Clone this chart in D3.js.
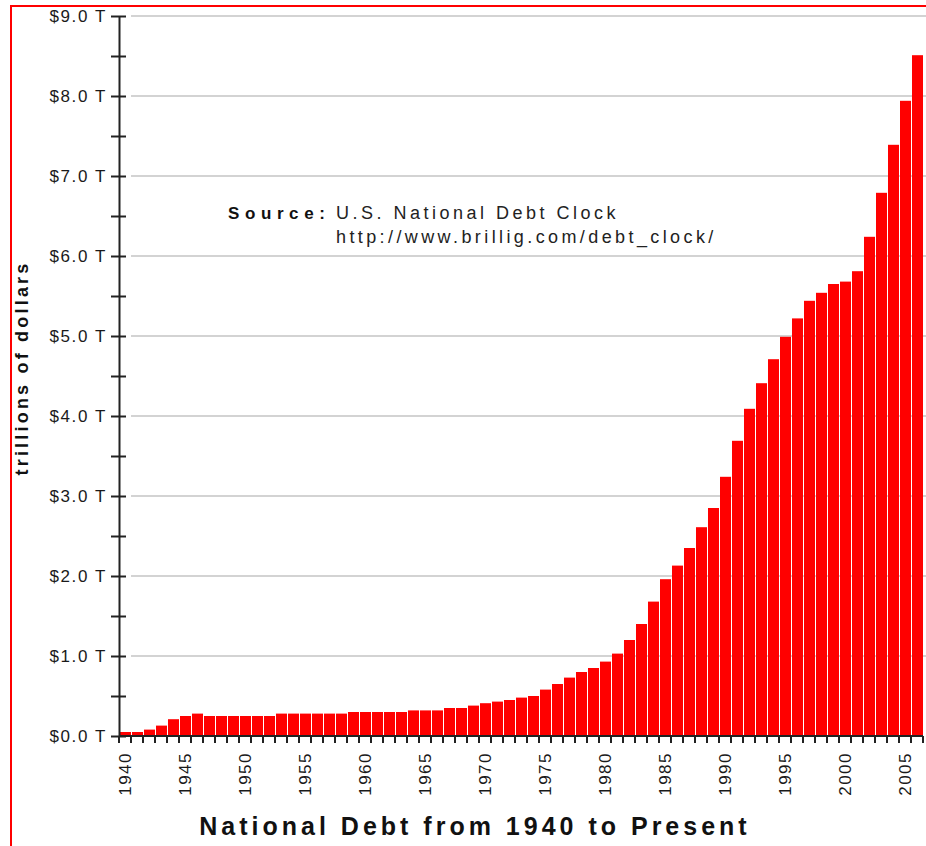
<!DOCTYPE html>
<html>
<head>
<meta charset="utf-8">
<script src="https://cdn.jsdelivr.net/npm/d3@7"></script>
<style>
  body { margin: 0; background: #fff; }
  svg { display: block; font-family: "Liberation Sans", Arial, sans-serif; }
</style>
</head>
<body>
<div id="chart"></div>
<script>
// years 1940..2006, debt in trillions of dollars
const years = d3.range(1940, 2007);
const debt = [
  0.05, 0.05, 0.08, 0.13, 0.21, 0.25, 0.28, 0.25, 0.25, 0.25,
  0.25, 0.25, 0.25, 0.28, 0.28, 0.28, 0.28, 0.28, 0.28, 0.30,
  0.30, 0.30, 0.30, 0.30, 0.32, 0.32, 0.32, 0.35, 0.35, 0.38,
  0.41, 0.43, 0.45, 0.48, 0.50, 0.58, 0.65, 0.73, 0.80, 0.85,
  0.93, 1.03, 1.20, 1.40, 1.68, 1.96, 2.13, 2.35, 2.61, 2.85,
  3.24, 3.69, 4.09, 4.41, 4.71, 4.99, 5.22, 5.44, 5.54, 5.65,
  5.68, 5.81, 6.24, 6.79, 7.39, 7.94, 8.51
];
const labelYears = d3.range(1940, 2006, 5);
const yTicks = d3.range(0, 9.5, 0.5);

const data = years.map((yr, i) => ({ year: yr, value: debt[i] }));

const svgWidth = 926, svgHeight = 846;
const svg = d3.select("#chart").append("svg")
    .attr("width", svgWidth)
    .attr("height", svgHeight);

const x = d3.scaleBand()
    .domain(years)
    .range([119, 923])
    .padding(0);

const y = d3.scaleLinear()
    .domain([0, 9])
    .range([736, 16]);

// red frame
svg.append("rect")
    .attr("x", 11).attr("y", 6)
    .attr("width", 1000).attr("height", 1000)
    .attr("fill", "none")
    .attr("stroke", "#ff0000")
    .attr("stroke-width", 2);

// grid
svg.append("g")
    .selectAll("line")
    .data(d3.range(1, 10))
    .enter().append("line")
    .attr("x1", 131).attr("x2", svgWidth)
    .attr("y1", d => y(d)).attr("y2", d => y(d))
    .attr("stroke", "#c4c4c4")
    .attr("stroke-width", 1.5);

// bars
svg.append("g")
    .selectAll("rect")
    .data(data)
    .enter().append("rect")
    .attr("x", d => x(d.year) + 1)
    .attr("width", x.bandwidth() - 1)
    .attr("y", d => y(d.value))
    .attr("height", d => y(0) - y(d.value))
    .attr("fill", "#ff0000");

// y axis
const yAxis = d3.axisLeft(y)
    .tickValues(yTicks)
    .tickSize(8)
    .tickSizeOuter(0)
    .tickPadding(4)
    .tickFormat(d => Number.isInteger(d) ? "$" + d.toFixed(1) + " T" : "");

const gy = svg.append("g")
    .attr("transform", "translate(119,0)")
    .call(yAxis);
gy.select(".domain").attr("stroke", "#222").attr("stroke-width", 2);
gy.selectAll(".tick line")
    .attr("x1", 7).attr("x2", -8)
    .attr("stroke", "#222").attr("stroke-width", 2);
gy.selectAll(".tick text")
    .attr("font-size", 17)
    .attr("letter-spacing", 1.6)
    .attr("fill", "#1a1a1a")
    .attr("font-family", "Liberation Sans, Arial, sans-serif");

// x axis
const gx = svg.append("g");
gx.append("line")
    .attr("x1", x.range()[0]).attr("x2", x.range()[1])
    .attr("y1", y(0)).attr("y2", y(0))
    .attr("stroke", "#222").attr("stroke-width", 2);
gx.selectAll("line.tick")
    .data(years.map(d => x(d)).concat([x.range()[1]]))
    .enter().append("line")
    .attr("class", "tick")
    .attr("x1", d => d).attr("x2", d => d)
    .attr("y1", y(0)).attr("y2", y(0) + 7)
    .attr("stroke", "#222").attr("stroke-width", 2);
gx.selectAll("text")
    .data(labelYears)
    .enter().append("text")
    .attr("transform", d => `translate(${x(d) + x.bandwidth() / 2 + 6},752) rotate(-90)`)
    .attr("text-anchor", "end")
    .attr("font-size", 17)
    .attr("letter-spacing", 1.5)
    .attr("fill", "#1a1a1a")
    .text(d => d);

// axis titles
svg.append("text")
    .attr("transform", "translate(28,368) rotate(-90)")
    .attr("text-anchor", "middle")
    .attr("font-weight", "bold")
    .attr("font-size", 18)
    .attr("letter-spacing", 3.2)
    .attr("fill", "#111")
    .text("trillions of dollars");

svg.append("text")
    .attr("x", 475).attr("y", 835)
    .attr("text-anchor", "middle")
    .attr("font-weight", "bold")
    .attr("font-size", 25)
    .attr("letter-spacing", 4)
    .attr("fill", "#111")
    .text("National Debt from 1940 to Present");

// source note
svg.append("text")
    .attr("x", 228).attr("y", 219)
    .attr("font-weight", "bold")
    .attr("font-size", 17)
    .attr("letter-spacing", 5.6)
    .attr("fill", "#111")
    .text("Source:");
svg.append("text")
    .attr("x", 336).attr("y", 219)
    .attr("font-size", 18)
    .attr("letter-spacing", 3.5)
    .attr("fill", "#222")
    .text("U.S. National Debt Clock");
svg.append("text")
    .attr("x", 336).attr("y", 243)
    .attr("font-size", 18)
    .attr("letter-spacing", 3.4)
    .attr("fill", "#222")
    .text("http://www.brillig.com/debt_clock/");
</script>
</body>
</html>
